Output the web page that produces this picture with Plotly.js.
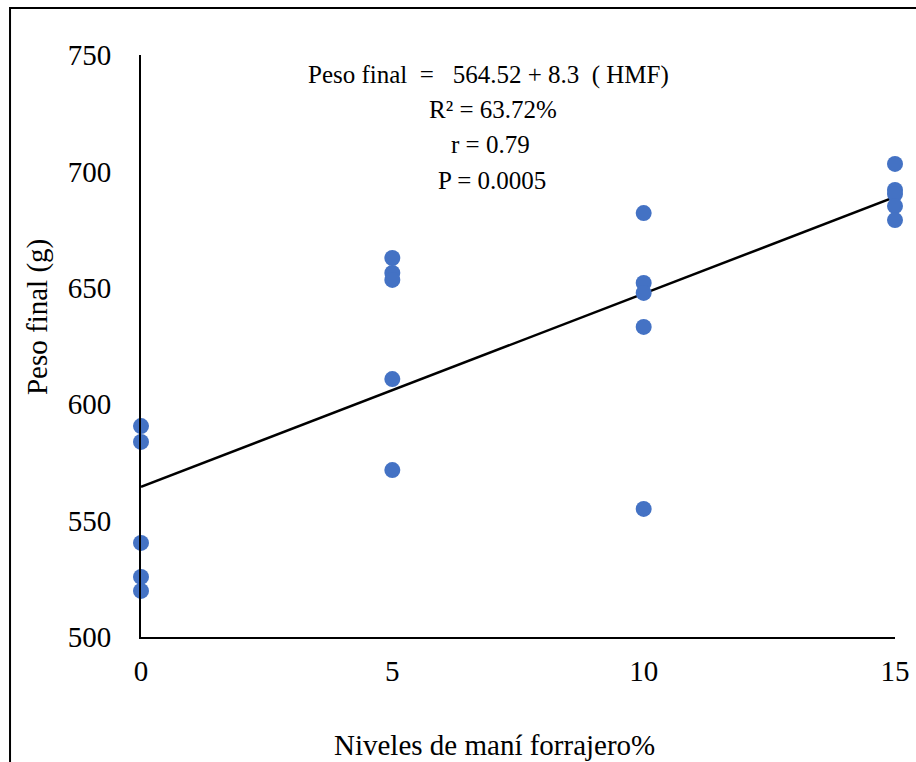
<!DOCTYPE html>
<html>
<head>
<meta charset="utf-8">
<script src="https://cdn.plot.ly/plotly-3.0.1.min.js"></script>
<style>html,body{margin:0;padding:0;background:#fff;}#chart{width:916px;height:762px;}</style>
</head>
<body>
<div id="chart"></div>
<script>
// Data
const nivelX = [0,0,0,0,0, 5,5,5,5,5, 10,10,10,10,10, 15,15,15,15,15];
const pesoFinal = [590.6,583.8,540.4,525.8,519.8, 662.8,656.4,653.4,610.8,571.7, 682.1,652.1,647.8,633.2,555.0, 703.2,692.0,690.3,685.1,679.1];
const fitX = [0, 15];
const fitY = [564.52, 689.02];
const xTicks = [0, 5, 10, 15];
const yTicks = [500, 550, 600, 650, 700, 750];
const eqLines = ["Peso final\u00a0\u00a0=\u00a0\u00a0\u00a0564.52 + 8.3\u00a0\u00a0(\u00a0HMF)", "R² = 63.72%", "r = 0.79", "P = 0.0005"];
const xTitle = "Niveles de maní forrajero%";
const yTitle = "Peso final (g)";

const font = "Times New Roman, Liberation Serif, serif";

const traces = [
  {x: fitX, y: fitY, mode: 'lines', type: 'scatter', line: {color: '#000', width: 2.5}, hoverinfo: 'skip', cliponaxis: false},
  {x: nivelX, y: pesoFinal, mode: 'markers', type: 'scatter', marker: {color: '#4472C4', size: 16}, cliponaxis: false}
];

const eqPos = [[0.4615, 0.9656], [0.4668, 0.9055], [0.4629, 0.8454], [0.4655, 0.7852]];
const annotations = eqLines.map((t, i) => ({
  text: t, xref: 'paper', yref: 'paper', x: eqPos[i][0], y: eqPos[i][1],
  xanchor: 'center', yanchor: 'middle', showarrow: false,
  font: {family: font, size: 25, color: '#000'}
}));
annotations.push({text: yTitle, xref: 'paper', yref: 'paper', x: -0.1379, y: 0.5498, textangle: -90,
  xanchor: 'center', yanchor: 'middle', showarrow: false, font: {family: font, size: 29, color: '#000'}});
annotations.push({text: xTitle, xref: 'paper', yref: 'paper', x: 0.4682, y: -0.1856,
  xanchor: 'center', yanchor: 'middle', showarrow: false, font: {family: font, size: 29, color: '#000'}});

const layout = {
  width: 916, height: 762,
  margin: {l: 141, r: 21, t: 55, b: 125},
  paper_bgcolor: '#fff', plot_bgcolor: '#fff',
  showlegend: false,
  font: {family: font, color: '#000'},
  xaxis: {range: [0, 15], tickvals: xTicks, ticktext: xTicks.map(String), showgrid: false, zeroline: false,
    showline: true, linecolor: '#000', linewidth: 2, ticks: '', ticklabelstandoff: 7,
    tickfont: {family: font, size: 29, color: '#000'}},
  yaxis: {range: [500, 750], tickvals: yTicks, ticktext: yTicks.map(String), showgrid: false, zeroline: false,
    showline: true, linecolor: '#000', linewidth: 2, ticks: '', ticklabelstandoff: 22,
    tickfont: {family: font, size: 29, color: '#000'}},
  annotations: annotations,
  shapes: [{type: 'rect', xref: 'paper', yref: 'paper', x0: -0.1737, x1: 1.2, y0: -0.4, y1: 1.0808,
    line: {color: '#000', width: 2}, fillcolor: 'rgba(0,0,0,0)', layer: 'below'}]
};

Plotly.newPlot('chart', traces, layout, {displayModeBar: false, staticPlot: true});
</script>
</body>
</html>
